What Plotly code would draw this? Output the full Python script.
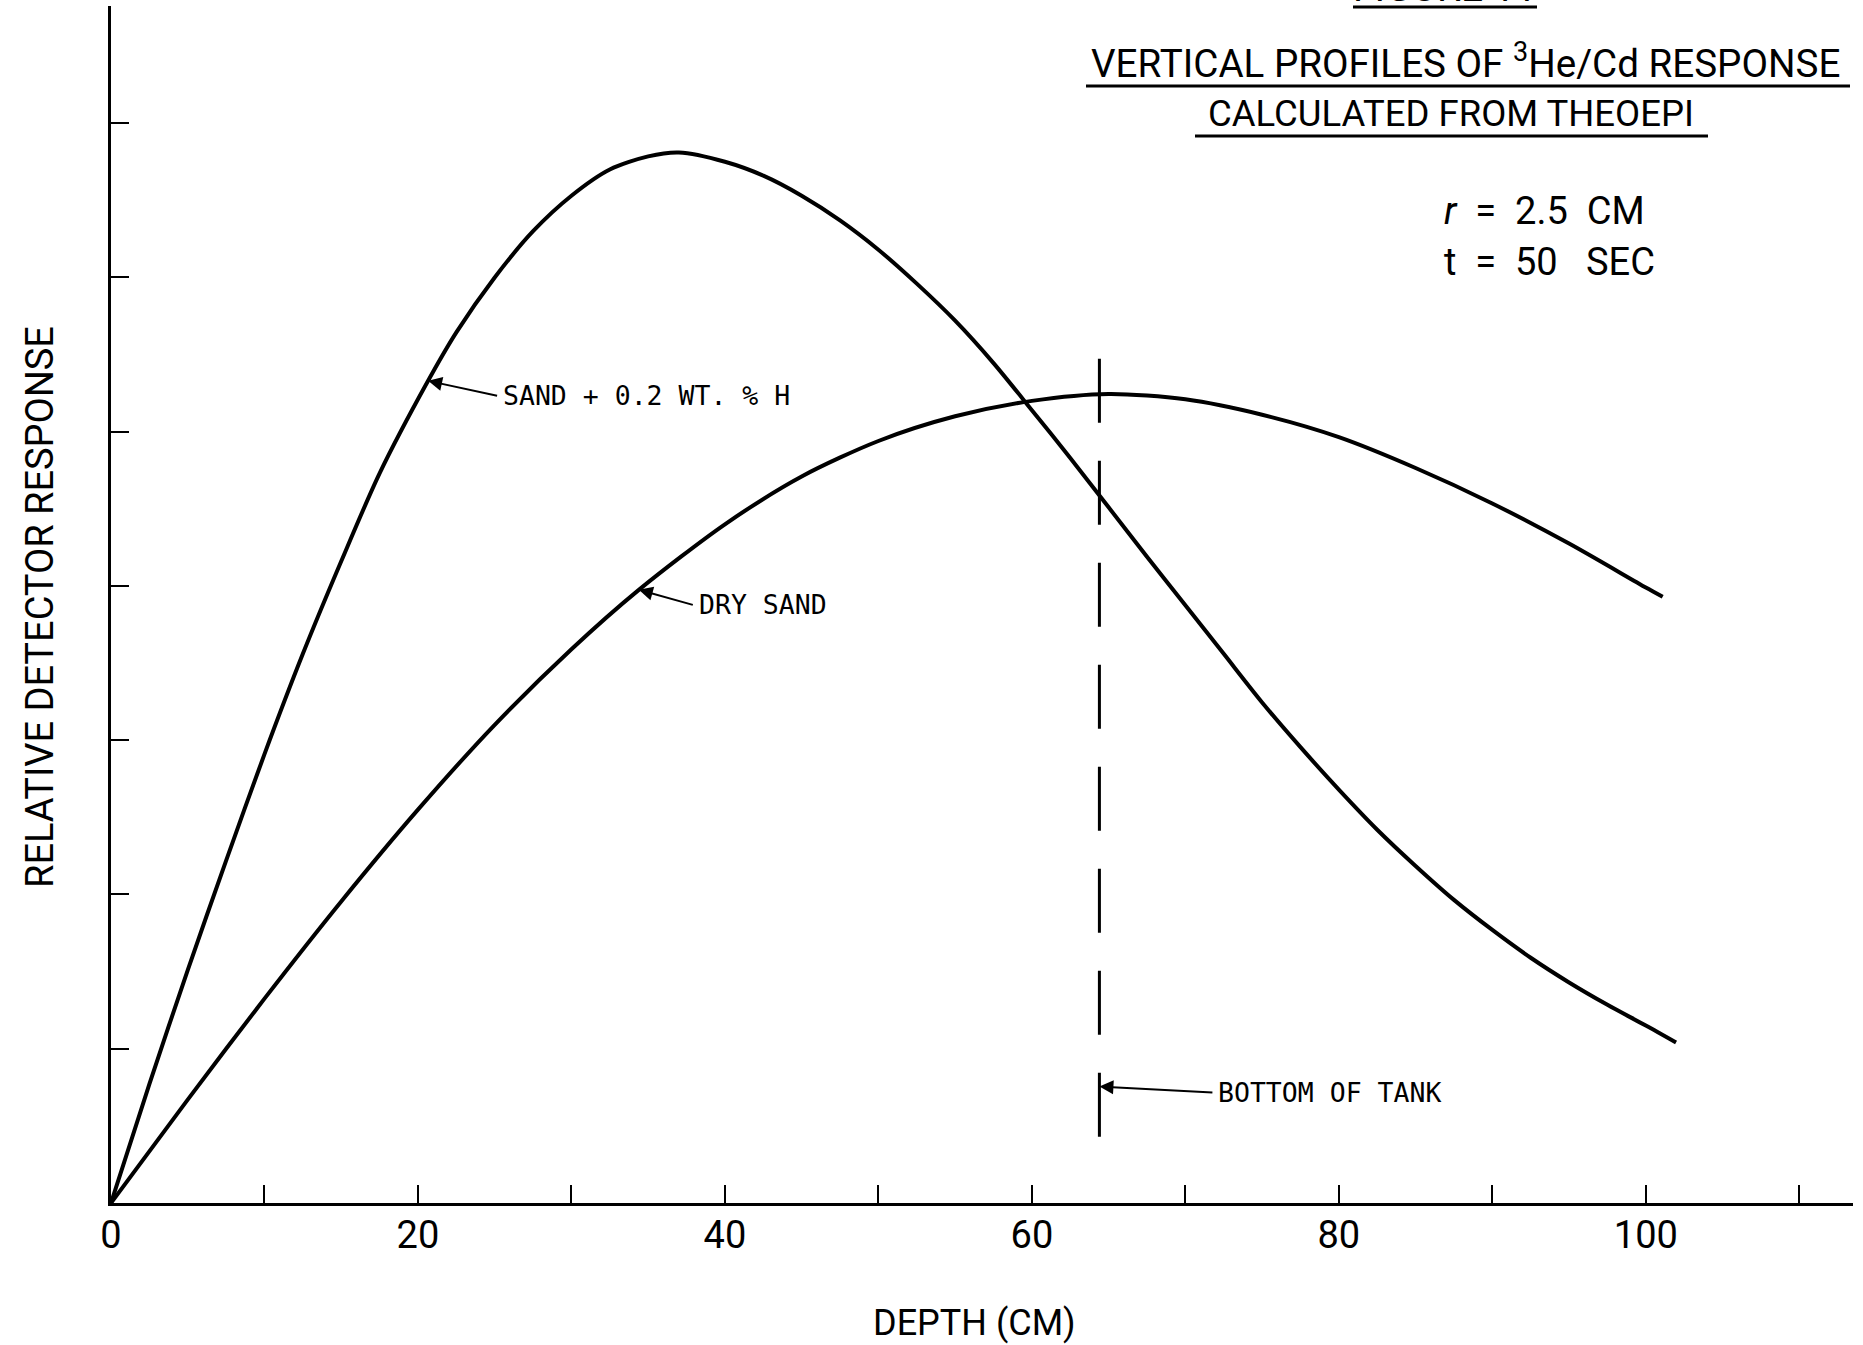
import plotly.graph_objects as go

# Relative detector response vs. depth (cm), calculated with THEOEPI
sand_h_depth = [0, 2.5, 5, 7.5, 10, 12.5, 15, 17.5, 20.66, 22.5, 25, 27.5, 30,
                32.5, 35, 37, 40, 42.5, 45, 47.5, 50, 52.5, 55, 57.5, 60, 62.5,
                65, 67.5, 70, 72.5, 75, 77.5, 80, 82.5, 85, 87.5, 90, 92.5, 95,
                97.5, 100, 101.97]
sand_h_resp = [0, 0.77, 1.51, 2.22, 2.91, 3.56, 4.16, 4.73, 5.33, 5.644, 6.00,
               6.30, 6.53, 6.70, 6.785, 6.81, 6.75, 6.66, 6.53, 6.37, 6.18, 5.96,
               5.72, 5.445, 5.14, 4.83, 4.51, 4.19, 3.875, 3.56, 3.245, 2.955,
               2.68, 2.42, 2.185, 1.965, 1.77, 1.59, 1.43, 1.285, 1.15, 1.04]

dry_depth = [0, 5, 10, 15, 20, 25, 30, 34.39, 40, 45, 50, 55, 60, 65, 70, 75,
             80, 85, 90, 95, 100, 101.1]
dry_resp = [0, 0.67, 1.325, 1.955, 2.55, 3.10, 3.59, 3.975, 4.40, 4.71, 4.94,
            5.10, 5.20, 5.245, 5.21, 5.11, 4.965, 4.765, 4.535, 4.275, 3.99, 3.93]

tank_bottom_depth = 64.4

x_major_ticks = [0, 20, 40, 60, 80, 100]
x_major_text = ["0", "20", "40", "60", "80", "100"]
x_minor_ticks = [10, 30, 50, 70, 90, 110]
y_tick_vals = [1, 2, 3, 4, 5, 6, 7]

W, H = 1863, 1345
ML, MR, MT, MB = 111, 10, 6, 142
PW, PH = W - ML - MR, H - MT - MB

SANS = "Roboto, Liberation Sans, sans-serif"
MONO = "DejaVu Sans Mono, Liberation Mono, monospace"


def px(xp):
    return (xp - ML) / PW


def py(yp):
    return (H - MB - yp) / PH


fig = go.Figure()
fig.add_trace(go.Scatter(x=sand_h_depth, y=sand_h_resp, mode="lines",
                         line=dict(color="black", width=4, shape="spline", smoothing=0.8),
                         name="SAND + 0.2 WT. % H", hoverinfo="skip"))
fig.add_trace(go.Scatter(x=dry_depth, y=dry_resp, mode="lines",
                         line=dict(color="black", width=4, shape="spline", smoothing=0.8),
                         name="DRY SAND", hoverinfo="skip"))

# bottom of tank marker (drawn upward so the dash pattern starts solid at the bottom)
fig.add_shape(type="line", xref="x", yref="y",
              x0=tank_bottom_depth, x1=tank_bottom_depth, y0=0.43, y1=5.60,
              line=dict(color="black", width=3, dash="64px,38px"))

annotations = []

# curve labels with arrows
label_font = dict(family=MONO, size=26.5, color="black")
arrow_style = dict(showarrow=True, arrowhead=2, arrowsize=1.4, arrowwidth=2,
                   arrowcolor="black", xanchor="left", yanchor="middle",
                   borderpad=5, font=label_font)
i_sand = sand_h_depth.index(20.66)
i_dry = dry_depth.index(34.39)
annotations.append(dict(x=sand_h_depth[i_sand], y=sand_h_resp[i_sand], xref="x", yref="y",
                        text="SAND + 0.2 WT. % H", ax=69, ay=15, **arrow_style))
annotations.append(dict(x=dry_depth[i_dry], y=dry_resp[i_dry], xref="x", yref="y",
                        text="DRY SAND", ax=54, ay=15, **arrow_style))
annotations.append(dict(x=tank_bottom_depth, y=0.755, xref="x", yref="y",
                        text="BOTTOM OF TANK", ax=113, ay=6, **arrow_style))


def note(xp, yp, text, size, xanchor="center", yanchor="middle", **kw):
    return dict(x=px(xp), y=py(yp), xref="paper", yref="paper", text=text,
                showarrow=False, xanchor=xanchor, yanchor=yanchor,
                font=dict(family=SANS, size=size, color="black"), **kw)


annotations += [
    note(1445, 13, "FIGURE 11", 39, yanchor="bottom"),
    note(1465, 88, "VERTICAL PROFILES OF <sup>3</sup>He/Cd RESPONSE", 38.6, yanchor="bottom"),
    note(1451, 113, "CALCULATED FROM THEOEPI", 36.5),
    note(1442, 211, "<i>r</i>  =  2.5  CM", 38, xanchor="left"),
    note(1442, 262, "t  =  50   SEC", 38, xanchor="left"),
    note(974, 1323, "DEPTH (CM)", 36),
    note(40, 607, "RELATIVE DETECTOR RESPONSE", 38, textangle=-90),
]

# title underlines
for x0, x1, yl in [(1353, 1537, 7), (1086, 1850, 86), (1195, 1708, 136)]:
    fig.add_shape(type="line", xref="paper", yref="paper",
                  x0=px(x0), x1=px(x1), y0=py(yl), y1=py(yl),
                  line=dict(color="black", width=3))

fig.update_layout(
    width=W, height=H,
    margin=dict(l=ML, r=MR, t=MT, b=MB, pad=0),
    paper_bgcolor="white", plot_bgcolor="white",
    showlegend=False,
    annotations=annotations,
    font=dict(family=SANS, color="black"),
)
fig.update_xaxes(range=[0, 113.5], showline=True, linewidth=3, linecolor="black",
                 ticks="inside", ticklen=18, tickwidth=2, tickcolor="black",
                 tickvals=x_major_ticks, ticktext=x_major_text,
                 minor=dict(tickvals=x_minor_ticks, ticks="inside", ticklen=18,
                            tickwidth=2, tickcolor="black", showgrid=False),
                 tickfont=dict(family=SANS, size=38, color="black"),
                 ticklabelstandoff=-4,
                 showgrid=False, zeroline=False, fixedrange=True)
fig.update_yaxes(range=[0, 7.76], showline=True, linewidth=3, linecolor="black",
                 ticks="inside", ticklen=18, tickwidth=2, tickcolor="black",
                 tickvals=y_tick_vals, showticklabels=False,
                 showgrid=False, zeroline=False, fixedrange=True)

fig.write_html("out.html", config={"displayModeBar": False})
